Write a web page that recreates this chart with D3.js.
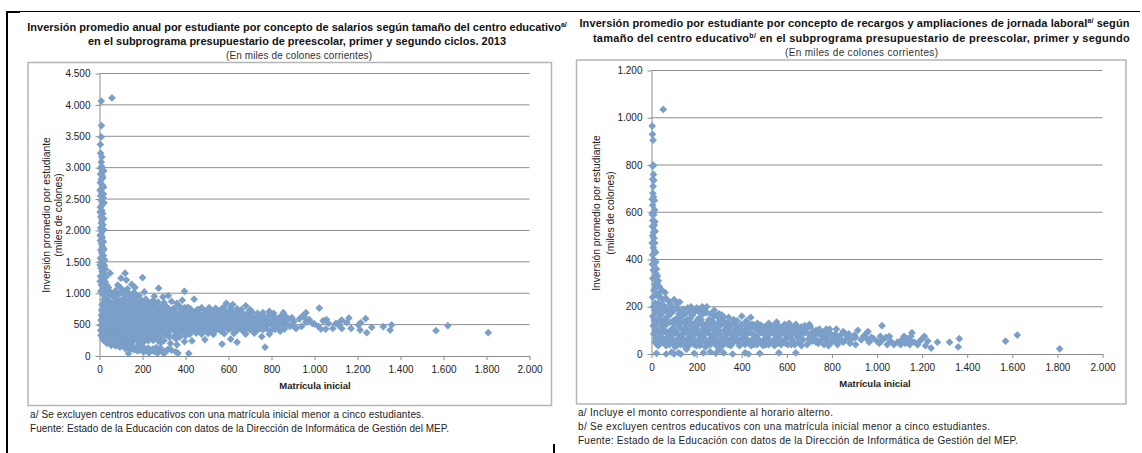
<!DOCTYPE html>
<html>
<head>
<meta charset="utf-8">
<title>Inversión promedio por estudiante</title>
<script src="https://d3js.org/d3.v7.min.js"></script>
<style>
body { margin: 0; background: #fff; }
text { font-family: "Liberation Sans", Arial, sans-serif; }
.axis text { font-size: 10px; fill: #222; }
.title { font-size: 11px; font-weight: bold; fill: #111; text-anchor: middle; }
.sub { font-size: 10px; fill: #333; text-anchor: middle; }
.note { font-size: 10px; fill: #222; }
.ylab { font-size: 10.3px; fill: #222; text-anchor: middle; }
.xlab { font-size: 9.5px; font-weight: bold; fill: #222; text-anchor: middle; }
</style>
</head>
<body>
<script>
var xTicks = [0, 200, 400, 600, 800, 1000, 1200, 1400, 1600, 1800, 2000];
var yTicksSalarios = [0, 500, 1000, 1500, 2000, 2500, 3000, 3500, 4000, 4500];
var yTicksRecargos = [0, 200, 400, 600, 800, 1000, 1200];

// [matricula, inversion]
var salarios = [
[8,4060],[58,4110],[9,3670],[8,3490],[4,3370],[5,3230],[11,3170],[8,3090],[10,3020],[6,2990],[5,2900],[12,2870],[8,2810],[4,2760],[14,2720],[7,2660],[11,2600],[5,2550],[17,2520],[9,2470],[13,2410],[4,2370],[10,2320],[15,2270],[6,2220],[12,2170],[8,2120],[16,2090],[5,2040],[11,1990],[7,1940],[13,1890],[4,1840],[9,1790],[14,1740],[6,1690],[11,1640],[18,1600],[5,1560],[9,1510],[15,1470],[23,1440],[7,1400],[12,1350],[20,1310],[5,1270],[15,1220],[27,1180],[9,1130],[20,1090],[35,1050],[6,1030],[14,990],[28,960],
[49,1320],[119,1320],[100,1240],[125,1210],[85,1130],[200,1250],[150,1140],[165,1090],[130,1070],[275,1080],[208,1020],[395,1030],
[50,1020],[75,1040],[92,985],[110,1030],[135,1000],[160,1010],[185,960],
[20,900],[45,880],[68,930],[88,870],[112,915],[138,890],[163,925],[187,870],[215,905],[240,860],[250,880],[255,950],[295,940],[320,960],[385,890],[440,905],
[12,820],[38,800],[60,835],[85,790],[108,830],[132,800],[158,840],[182,795],[205,825],[230,800],[260,820],[285,780],[310,790],[345,760],[370,800],[395,770],[420,760],[455,740],[590,840],[680,800],[575,770],[610,780],[640,750],
[10,730],[32,710],[55,745],[80,705],[103,740],[128,715],[152,750],[177,710],[200,735],[225,705],[250,745],[275,715],[300,735],[325,715],[350,745],[378,705],[405,730],[432,710],[460,735],[490,720],[515,735],[540,715],[565,740],[590,710],[612,740],[640,700],[710,700],[790,710],[735,680],[665,680],
[9,650],[30,625],[52,660],[76,620],[100,655],[124,630],[148,665],[172,625],[196,650],[220,620],[244,660],[268,630],[292,650],[316,625],[342,660],[366,620],[392,645],[418,625],[444,655],[470,630],[496,650],[522,625],[548,655],[574,630],[600,660],[626,625],[652,650],[678,630],[704,655],[730,625],[756,650],[782,630],[808,640],[850,650],[870,620],[835,610],
[7,570],[28,545],[50,580],[73,540],[97,575],[121,550],[145,585],[169,545],[193,570],[217,540],[241,575],[265,550],[289,570],[313,545],[339,580],[363,540],[389,565],[415,545],[441,575],[467,550],[493,570],[519,545],[545,575],[571,550],[597,580],[623,545],[649,570],[675,550],[701,575],[727,545],[753,570],[779,550],[805,575],[830,545],[855,570],[880,590],[905,550],
[6,490],[26,465],[47,500],[71,460],[94,495],[118,470],[142,505],[166,465],[190,490],[214,460],[238,495],[262,470],[286,490],[310,465],[336,500],[360,460],[386,485],[412,465],[438,495],[464,470],[490,490],[516,465],[542,495],[568,470],[594,500],[620,465],[646,490],[672,470],[698,495],[724,465],[750,490],[776,470],[802,495],[826,465],[852,490],[885,470],[910,450],
[6,410],[24,385],[44,420],[68,380],[91,415],[115,390],[139,425],[163,385],[187,410],[211,380],[235,415],[259,390],[283,410],[307,385],[333,420],[357,380],[383,405],[409,385],[435,415],[461,400],[487,420],[513,395],[540,410],[565,400],[600,420],[640,410],[668,395],[700,420],[730,400],[760,420],[795,400],[815,425],[840,395],
[7,330],[22,300],[42,340],[65,305],[90,335],[112,310],[130,340],[155,320],[180,330],[205,310],[225,345],[255,330],[280,300],[305,340],[345,310],[400,320],[355,275],[430,240],[490,260],[570,190],[610,270],[640,220],[770,140],[755,310],
[20,245],[35,200],[55,170],[50,250],[75,160],[70,225],[95,140],[100,240],[120,120],[135,210],[160,250],[250,250],[300,245],[360,180],[395,230],
[140,105],[160,100],[175,85],[195,110],[215,90],[235,105],[255,75],[275,95],[295,65],[320,110],[135,40],[205,60],[230,50],[270,45],[300,40],[355,65],[365,45],[415,40]
];

// second pass over the densest part of the salarios cloud
var salariosDenso = [
[20,2950],[16,2840],[19,2690],[3,2640],[18,2580],[21,2440],[3,2290],[19,2190],[20,2010],[3,1920],[18,1820],[21,1700],[24,1530],[3,1450],[28,1380],[30,1260],[33,1130],[3,1190],[42,1090],
[22,1000],[60,980],[80,960],[100,1080],[122,960],[148,950],[172,970],[40,950],[198,880],
[25,860],[50,840],[75,860],[97,880],[122,850],[147,850],[172,860],[198,850],[222,860],[272,860],[300,850],[335,870],[360,840],
[22,770],[47,780],[72,770],[95,775],[120,760],[143,790],[168,770],[192,775],[218,765],[243,785],[270,770],[297,770],[322,755],[358,775],[383,745],[410,775],[475,770],[510,770],[540,760],[620,820],[700,740],[660,740],
[20,680],[42,690],[66,670],[90,695],[114,680],[138,695],[162,675],[186,690],[210,670],[234,695],[258,680],[282,690],[306,670],[332,695],[356,680],[382,670],[408,690],[434,670],[460,690],[486,675],[512,690],[538,670],[564,695],[590,670],[616,690],[655,700],[690,690],[760,690],[810,680],[855,690],
[18,600],[40,610],[64,590],[88,610],[112,595],[136,610],[160,590],[184,610],[208,595],[232,615],[256,590],[280,610],[304,590],[330,615],[354,590],[380,605],[406,590],[432,610],[458,590],[484,610],[510,595],[536,610],[562,590],[588,615],[614,590],[640,610],[666,595],[692,615],[718,590],[744,610],[770,595],[796,610],[822,590],[845,610],[895,610],
[16,520],[38,530],[60,510],[84,530],[108,515],[132,530],[156,510],[180,530],[204,515],[228,530],[252,510],[276,530],[300,510],[326,530],[350,510],[376,525],[402,510],[428,530],[454,510],[480,530],[506,515],[532,530],[558,510],[584,530],[610,510],[636,530],[662,515],[688,530],[714,510],[740,530],[766,510],[792,530],[818,510],[842,530],[870,510],[895,505],
[15,440],[36,450],[58,430],[82,445],[105,430],[128,450],[152,430],[176,450],[200,430],[224,450],[248,430],[272,445],[298,430],[322,445],[346,425],[372,445],[398,430],[424,445],[450,430],[476,445],[502,430],[528,445],[554,425],[580,440],[612,440],[655,440],[685,435],[715,445],[745,435],[775,440],[830,440],[860,430],
[14,370],[34,360],[56,375],[80,350],[102,370],[126,355],[150,375],[174,350],[198,370],[222,355],[246,370],[270,360],[295,375],[320,355],[370,350],[395,365],[420,345],[450,365],[475,350],[505,360],[530,345],[580,355],[625,360],[680,350],[720,365],[790,350],
[14,280],[30,270],[48,295],[58,270],[78,285],[100,290],[122,270],[145,290],[170,280],[195,270],[215,290],[240,300],[270,285],[325,300],[372,300],
[28,240],[42,215],[62,200],[84,195],[105,180],[118,200],[138,170],[150,150],[170,130],[185,145],[205,135],[225,125],[250,115],[285,120],[265,135],
[125,135],[150,120],[185,90],[205,115],[225,80],[245,90],[265,70],[285,85],[310,80],[335,95],
[115,230],[150,225],[180,240],[205,220],[228,245],[275,235],[150,190],[185,195],[330,200],[285,210]
];

var recargos = [
[52,1035],[3,965],[4,930],[7,905],[8,800],[6,795],[9,760],[5,740],[10,735],[7,710],[6,680],[3,655],[9,665],[13,650],[5,630],[7,600],[4,590],[10,590],[6,565],[12,545],[4,540],[9,515],[5,500],[11,490],[3,470],[8,450],[13,435],[5,420],[10,400],[15,385],[4,380],[8,355],[20,340],[13,325],[6,320],[25,300],[15,295],[35,285],[10,270],[60,260],
[22,255],[40,240],[5,240],[30,215],[75,225],[55,205],[85,210],[115,215],[100,230],[125,220],[70,190],[105,195],[130,180],[8,200],[160,195],[200,195],[150,170],[185,185],[225,200],[245,200],
[6,160],[22,175],[42,165],[62,150],[85,170],[110,150],[132,160],[160,145],[182,165],[208,150],[230,170],[255,145],[278,160],[300,150],[322,155],[340,135],
[8,120],[26,135],[48,115],[70,130],[95,110],[118,125],[142,105],[165,125],[190,110],[215,130],[238,105],[262,125],[285,110],[310,130],[332,110],[355,125],[378,110],[400,160],[400,125],[425,110],[440,155],[450,125],[475,105],[500,115],[525,110],[550,120],[575,105],[600,115],[625,110],[650,105],[690,110],[705,115],[730,100],[775,105],[760,90],
[10,85],[30,70],[52,90],[76,75],[100,85],[125,70],[148,90],[172,70],[196,85],[220,75],[245,90],[268,70],[292,85],[316,70],[340,90],[362,75],[385,90],[410,80],[435,90],[460,75],[485,90],[510,70],[535,90],[560,75],[585,90],[610,70],[635,90],[660,80],[685,95],[710,75],[740,85],[765,70],[790,90],[815,85],[840,80],[860,60],[885,60],[900,80],[915,100],
[20,45],[45,50],[65,35],[92,50],[115,40],[138,55],[150,30],[178,50],[200,35],[225,50],[250,40],[275,55],[300,40],[330,50],[352,35],[378,55],[400,45],[430,50],[455,40],[480,55],[508,40],[530,50],[560,45],[590,55],[620,40],[650,50],[690,40],[715,55],[765,40],[800,50],[825,40],
[22,3],[65,0],[90,8],[100,0],[120,5],[130,0],[155,20],[190,3],[230,5],[260,10],[285,3],[320,5],[360,0],[415,5],[430,0],[480,3],[565,5],[640,5],[300,18],
[960,95],[1022,120],[950,85],[930,60],[965,50],[985,65],[1010,45],[1040,70],[1060,55],[1075,40],[1110,60],[1125,45],[1150,75],[1165,50],[1145,40],[1200,65],[1215,35],[1225,55],[1240,25],[1268,50],[1322,50],[1360,30],[1365,65],[1570,55],[1622,80],[1810,22],[1000,55],[1045,40],[905,40],[880,45],[1130,65],[1105,40],[1180,40]
];

// second pass over the densest part of the recargos cloud
var recargosDenso = [
[14,610],[15,560],[16,520],[14,470],[18,430],[19,390],[22,360],[26,330],[30,310],[18,280],[36,260],[46,270],[28,245],[50,230],[64,235],
[16,215],[42,205],[20,190],[60,185],[90,190],[118,190],[140,190],[175,200],[212,190],[235,185],[32,150],[50,190],
[14,140],[34,150],[54,140],[74,160],[96,140],[122,140],[146,140],[172,150],[196,135],[220,145],[244,130],[268,140],[292,130],[316,140],[342,155],[365,145],[300,170],[278,185],[380,140],[420,140],[470,130],[520,130],[555,135],[610,130],[640,125],[700,125],
[18,100],[38,105],[58,100],[84,100],[108,100],[130,110],[154,105],[178,105],[202,100],[226,105],[250,100],[274,105],[298,100],[322,100],[344,100],[368,100],[392,105],[414,100],[438,110],[462,105],[488,110],[512,100],[538,105],[562,100],[588,105],[612,95],[638,105],[662,100],[675,110],[718,95],[745,105],[790,105],[820,105],[850,95],[875,85],[905,70],
[18,65],[40,70],[64,65],[88,65],[112,60],[136,70],[160,65],[184,65],[208,60],[232,70],[256,60],[280,70],[304,60],[328,70],[350,60],[374,70],[398,65],[422,65],[446,60],[472,65],[498,60],[522,60],[548,65],[572,60],[598,70],[622,60],[646,70],[672,60],[698,65],[725,65],[752,60],[778,60],[802,70],[828,60],[850,50],[870,75],
[30,35],[55,45],[80,40],[105,30],[128,40],[165,35],[190,40],[215,35],[240,30],[262,40],[288,35],[315,35],[340,40],[365,50],[390,35],[415,40],[442,35],[468,40],[495,35],[520,40],[545,35],[575,40],[605,40],[635,40],[665,35],[740,45],[785,35],
[940,75],[975,70],[1015,75],[1055,75],[1090,50],[1120,75],[1145,60],[1155,90],[1190,55],[1210,75],[1025,60],[955,65]
];

// third pass, closes the remaining holes in the recargos cloud
var recargosRelleno = [
[15,185],[35,190],[48,175],[72,175],[95,180],[122,170],[142,178],[168,175],[192,178],[218,172],[245,175],[262,170],[290,165],[312,165],
[12,150],[28,130],[40,135],[65,125],[85,135],[105,128],[128,132],[152,125],[178,128],[205,122],[228,125],[255,120],[278,125],[302,118],[325,125],[348,115],[372,125],[395,118],[415,122],[438,125],[462,118],[485,122],[512,118],[538,118],[565,118],[590,125],[615,120],[665,115],[680,120],[745,100],
[14,115],[32,92],[45,100],[66,92],[90,88],[115,88],[138,85],[162,88],[185,90],[208,88],[235,88],[258,85],[280,88],[304,85],[330,82],[352,85],[375,85],[398,85],[424,88],[448,85],[472,82],[498,85],[522,82],[548,82],[572,82],[598,82],[622,82],[648,85],[672,85],[698,82],[725,85],[755,80],[778,80],[805,75],[830,70],[860,85],
[16,52],[35,55],[55,60],[78,55],[102,50],[125,55],[148,50],[170,50],[192,52],[218,52],[240,52],[265,52],[290,50],[315,52],[340,52],[362,55],[388,50],[410,55],[438,50],[465,50],[490,48],[515,48],[540,50],[568,50],[595,45],[628,50],[660,50],[700,50],[730,50],[780,50],[812,55],[840,60]
];

// thin tail of the salarios cloud, right of 900
var salariosCola = [
[1022,764],[960,690],[945,640],[930,590],[952,620],[975,580],[990,520],[960,540],[940,470],[915,440],[1000,510],[1018,470],[1030,430],[1040,560],[1055,580],[1065,520],[1052,430],[1085,440],[1111,494],[1120,550],[1127,570],[1127,440],[1100,520],[1160,605],[1150,530],[1170,440],[1204,494],[1212,414],[1215,530],[1238,594],[1243,371],[1266,456],[1320,467],[1352,414],[1359,494],[1565,403],[1620,483],[1808,371]
];

var svg = d3.select("body").append("svg").attr("width", 1142).attr("height", 453);
var fmt = d3.formatLocale({decimal: ",", thousands: ".", grouping: [3], currency: ["", ""]}).format(",d");
var marker = d3.symbol().type(d3.symbolSquare).size(30);

// black page rules of the source document
svg.append("rect").attr("x", 6).attr("y", 11).attr("width", 2).attr("height", 442).attr("fill", "#000");
svg.append("rect").attr("x", 6).attr("y", 11).attr("width", 14).attr("height", 2).attr("fill", "#000");
svg.append("line").attr("x1", 20).attr("x2", 1140).attr("y1", 11.5).attr("y2", 11.5).attr("stroke", "#000");
svg.append("rect").attr("x", 553).attr("y", 444).attr("width", 2).attr("height", 9).attr("fill", "#000");

function panel(p) {
	svg.append("rect")
		.attr("x", p.box[0]).attr("y", p.box[1])
		.attr("width", p.box[2] - p.box[0]).attr("height", p.box[3] - p.box[1])
		.attr("fill", "#fff").attr("stroke", "#b5b5b5").attr("stroke-width", 1.5);

	var x = d3.scaleLinear().domain([0, 2000]).range([p.x0, p.x1]);
	var y = d3.scaleLinear().domain([0, d3.max(p.yTicks)]).range([p.y0, p.y1]);

	svg.append("g").selectAll("line").data(p.yTicks.slice(1)).join("line")
		.attr("x1", p.x0).attr("x2", p.x1)
		.attr("y1", d => y(d)).attr("y2", d => y(d))
		.attr("stroke", "#8c8c8c").attr("stroke-width", 1);

	var gx = svg.append("g").attr("class", "axis")
		.attr("transform", "translate(0," + p.y0 + ")")
		.call(d3.axisBottom(x).tickValues(xTicks).tickFormat(fmt).tickSize(4).tickSizeOuter(0));
	var gy = svg.append("g").attr("class", "axis")
		.attr("transform", "translate(" + p.x0 + ",0)")
		.call(d3.axisLeft(y).tickValues(p.yTicks).tickFormat(fmt).tickSize(4).tickSizeOuter(0));
	gx.selectAll("path,line").attr("stroke", "#8c8c8c");
	gy.selectAll("path,line").attr("stroke", "#8c8c8c");
	gx.selectAll("text").attr("dy", "0.95em");
	gy.selectAll("text").attr("dx", "-2px");

	svg.append("g").selectAll("path").data(p.points).join("path")
		.attr("d", marker)
		.attr("transform", d => "translate(" + x(d[0]) + "," + y(d[1]) + ") rotate(45)")
		.attr("fill", "#7a9fc9");

	p.title.forEach(function(line) {
		var t = svg.append("text").attr("class", "title").attr("x", line.x).attr("y", line.y)
			.style("letter-spacing", (line.ls || 0) + "px");
		line.parts.forEach(function(s) {
			var ts = t.append("tspan").text(s.t);
			if (s.sup) ts.attr("font-size", "7px").attr("dy", "-4");
			else if (s.after) ts.attr("dy", "4");
		});
	});
	svg.append("text").attr("class", "sub").attr("x", p.sub[0]).attr("y", p.sub[1])
		.attr("textLength", p.sub[2])
		.text("(En miles de colones corrientes)");
	svg.append("text").attr("class", "xlab").attr("x", p.xlab[0]).attr("y", p.xlab[1])
		.text("Matrícula inicial");
	svg.append("text").attr("class", "ylab")
		.attr("transform", "translate(" + p.ylab[0] + "," + p.ylab[2] + ") rotate(-90)")
		.text("Inversión promedio por estudiante");
	svg.append("text").attr("class", "ylab")
		.attr("transform", "translate(" + p.ylab[1] + "," + p.ylab[2] + ") rotate(-90)")
		.text("(miles de colones)");
	svg.append("g").selectAll("text").data(p.notes).join("text")
		.attr("class", "note").attr("x", p.noteX)
		.attr("y", (d, i) => p.noteY + i * 14)
		.attr("textLength", (d, i) => p.noteW[i])
		.text(d => d);
}

panel({
	box: [28, 62.5, 551.5, 405.5], x0: 99.5, x1: 529.5, y0: 356, y1: 73.5,
	yTicks: yTicksSalarios, points: salarios.concat(salariosDenso, salariosCola),
	title: [
		{x: 297, y: 31, parts: [{t: "Inversión promedio anual por estudiante por concepto de salarios según tamaño del centro educativo"}, {t: "a/", sup: true}]},
		{x: 297, y: 45, parts: [{t: "en el subprograma presupuestario de preescolar, primer y segundo ciclos. 2013"}]}
	],
	sub: [299, 59, 146], xlab: [315, 389], ylab: [50, 62, 215],
	noteX: 30, noteY: 418, noteW: [394, 419],
	notes: ["a/ Se excluyen centros educativos con una matrícula inicial menor a cinco estudiantes.",
		"Fuente: Estado de la Educación con datos de la Dirección de Informática de Gestión del MEP."]
});

panel({
	box: [576.5, 60, 1126, 404], x0: 651.5, x1: 1102.5, y0: 354, y1: 70.5,
	yTicks: yTicksRecargos, points: recargos.concat(recargosDenso, recargosRelleno),
	title: [
		{x: 854.5, y: 27, ls: 0.1, parts: [{t: "Inversión promedio por estudiante por concepto de recargos y ampliaciones de jornada laboral"}, {t: "a/", sup: true}, {t: " según", after: true}]},
		{x: 861.5, y: 42, ls: 0.27, parts: [{t: "tamaño del centro educativo"}, {t: "b/", sup: true}, {t: " en el subprograma presupuestario de preescolar, primer y segundo", after: true}]}
	],
	sub: [861.5, 56, 153], xlab: [875, 387], ylab: [599.5, 613.5, 213],
	noteX: 578, noteY: 416, noteW: [255, 412, 440],
	notes: ["a/ Incluye el monto correspondiente al horario alterno.",
		"b/ Se excluyen centros educativos con una matrícula inicial menor a cinco estudiantes.",
		"Fuente: Estado de la Educación con datos de la Dirección de Informática de Gestión del MEP."]
});
</script>
</body>
</html>
